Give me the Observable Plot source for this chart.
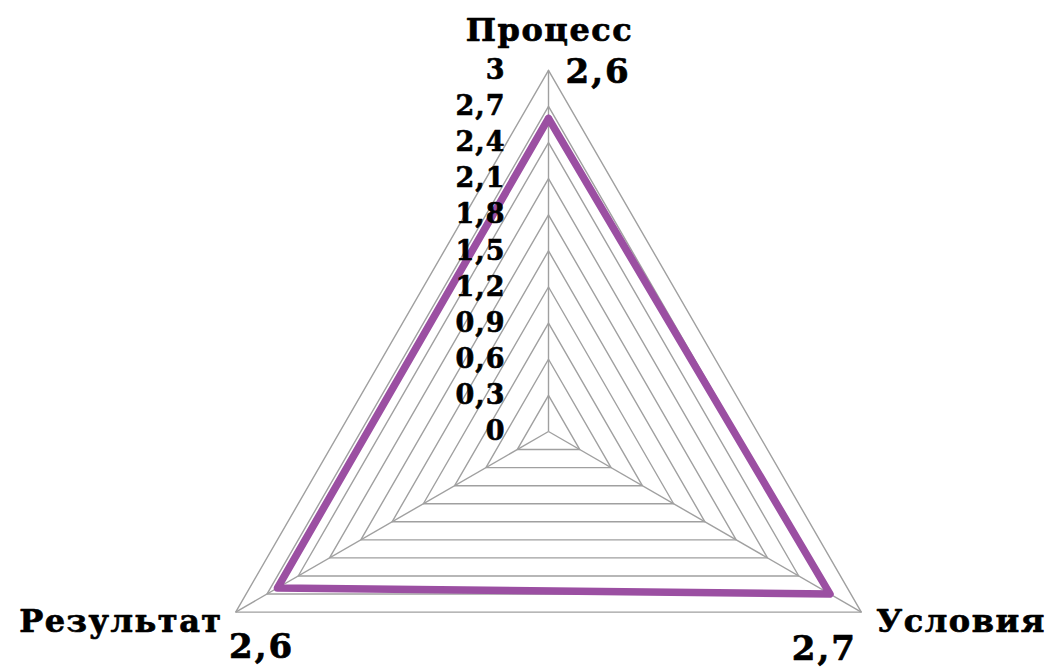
<!DOCTYPE html>
<html>
<head>
<meta charset="utf-8">
<script src="https://cdn.jsdelivr.net/npm/d3@7"></script>
<script src="https://cdn.jsdelivr.net/npm/@observablehq/plot@0.6"></script>
<style>
  html, body { margin: 0; padding: 0; background: #fff; }
  .ticklab text { letter-spacing: 1px; }
  .axisname text { letter-spacing: 1.5px; }
  .vallab text { letter-spacing: 2px; }
</style>
</head>
<body>
<div id="chart"></div>
<script>
// ---- data ----
const axes = ["Процесс", "Условия", "Результат"];
const values = [2.6, 2.7, 2.6];
const valueLabels = ["2,6", "2,7", "2,6"];
const ticks = [0, 0.3, 0.6, 0.9, 1.2, 1.5, 1.8, 2.1, 2.4, 2.7, 3];
const tickLabels = ["0", "0,3", "0,6", "0,9", "1,2", "1,5", "1,8", "2,1", "2,4", "2,7", "3"];
const maxValue = 3;

// ---- geometry helpers ----
const angles = [90, -30, 210].map(d => d * Math.PI / 180);
const pt = (i, r) => ({x: r * Math.cos(angles[i]), y: r * Math.sin(angles[i])});

const gridData = [];
ticks.filter(t => t > 0).forEach(t => {
  [0, 1, 2, 0].forEach(i => gridData.push({level: t, ...pt(i, t)}));
});
const spokes = axes.map((a, i) => ({x1: 0, y1: 0, x2: pt(i, maxValue).x, y2: pt(i, maxValue).y}));
const seriesData = [0, 1, 2, 0].map(i => ({axis: axes[i], ...pt(i, values[i])}));
const tickData = ticks.map((t, k) => ({x: 0, y: t, label: tickLabels[k]}));
const vertices = axes.map((a, i) => ({name: a, label: valueLabels[i], ...pt(i, maxValue)}));

const unit = 120.4; // px per value unit
const cx = 548, cy = 431;
const W = 1048, H = 667;

const nameStyle = {fontSize: 32, fill: "#000", stroke: "#000", strokeWidth: 0.7, className: "axisname"};
const valStyle = {fontSize: 34, fill: "#000", stroke: "#000", strokeWidth: 0.7, className: "vallab"};

const chart = Plot.plot({
  width: W,
  height: H,
  margin: 0,
  x: {domain: [-cx / unit, (W - cx) / unit], range: [0, W], axis: null},
  y: {domain: [-(H - cy) / unit, cy / unit], range: [H, 0], axis: null},
  style: {fontFamily: "'DejaVu Serif', serif", fontWeight: "bold", background: "#fff", color: "#000"},
  marks: [
    Plot.line(gridData, {x: "x", y: "y", z: "level", stroke: "#a0a0a0", strokeWidth: 1.4}),
    Plot.link(spokes, {x1: "x1", y1: "y1", x2: "x2", y2: "y2", stroke: "#a0a0a0", strokeWidth: 1.4}),
    Plot.line(seriesData, {x: "x", y: "y", stroke: "#9b4fa2", strokeWidth: 7.5, strokeLinejoin: "round"}),
    Plot.text(tickData, {x: "x", y: "y", text: "label", textAnchor: "end", dx: -43, fontSize: 27, fill: "#000", stroke: "#000", strokeWidth: 0.6, className: "ticklab"}),
    // axis names
    Plot.text([vertices[0]], {x: "x", y: "y", text: "name", dx: 1, dy: -40, ...nameStyle}),
    Plot.text([vertices[1]], {x: "x", y: "y", text: "name", textAnchor: "start", dx: 15, dy: 10, ...nameStyle}),
    Plot.text([vertices[2]], {x: "x", y: "y", text: "name", textAnchor: "end", dx: -13, dy: 10, ...nameStyle}),
    // value labels
    Plot.text([vertices[0]], {x: "x", y: "y", text: "label", textAnchor: "start", dx: 17, dy: 2, ...valStyle}),
    Plot.text([vertices[1]], {x: "x", y: "y", text: "label", dx: -37, dy: 37, ...valStyle}),
    Plot.text([vertices[2]], {x: "x", y: "y", text: "label", dx: 26, dy: 35, ...valStyle})
  ]
});
document.getElementById("chart").appendChild(chart);
</script>
</body>
</html>
